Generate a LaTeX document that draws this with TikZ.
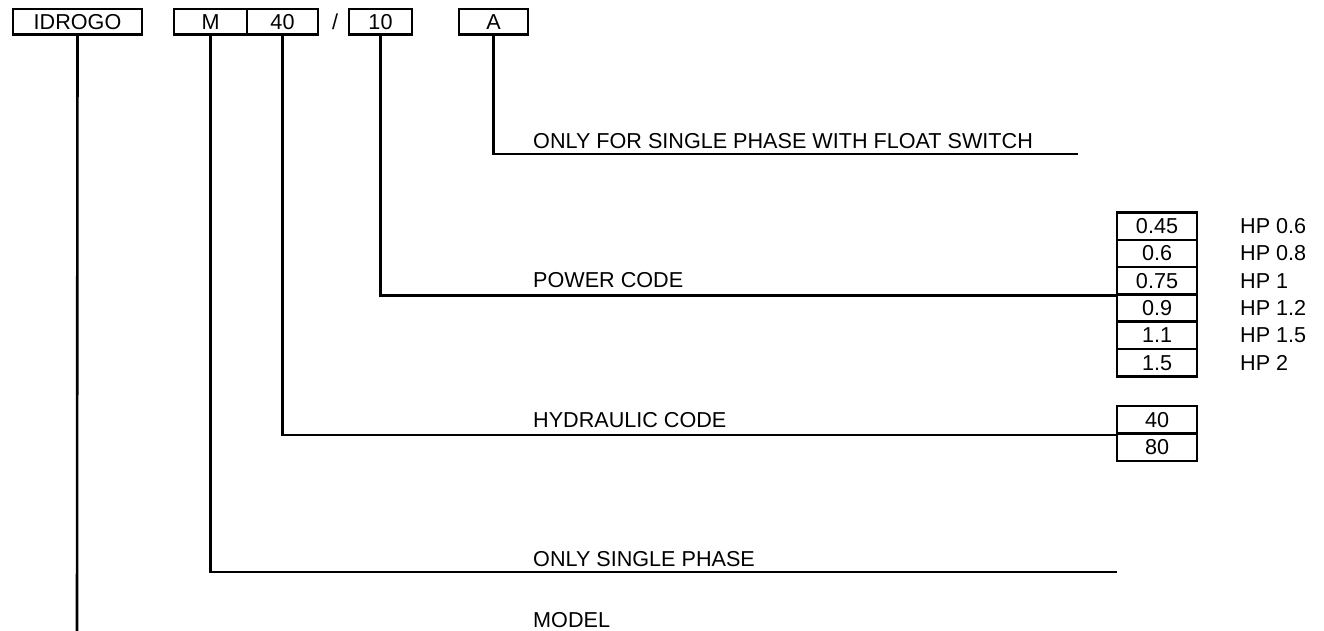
\documentclass[tikz,border=0pt]{standalone}
\usepackage{fontspec}
\setmainfont{Liberation Sans}
\begin{document}
\begin{tikzpicture}[x=1pt,y=-1pt,
  every node/.style={font=\fontsize{21.6}{25}\selectfont, inner sep=0pt},
  topbox/.style={draw, line width=2.6pt, minimum height=25.8pt},
  cell/.style={draw, line width=2.6pt, minimum width=80pt, minimum height=27.3pt},
  lbl/.style={anchor=base west},
  hp/.style={anchor=west},
  conn/.style={line width=2.6pt}]
\useasboundingbox (0,0) rectangle (1324,630);
% top code boxes
\node[topbox, minimum width=129pt] (idrogo) at (77.5,21.7) {IDROGO};
\node[topbox, minimum width=73pt] (m) at (210.5,21.7) {M};
\node[topbox, minimum width=71pt] (forty) at (282.5,21.7) {40};
\node (slash) at (335,21.7) {/};
\node[topbox, minimum width=63pt] (ten) at (380.5,21.7) {10};
\node[topbox, minimum width=69pt] (a) at (493.5,21.7) {A};
% power table
\node[cell] (p1) at (1157,226.2) {0.45};
\node[cell] (p2) at (1157,253.5) {0.6};
\node[cell] (p3) at (1157,280.8) {0.75};
\node[cell] (p4) at (1157,308.1) {0.9};
\node[cell] (p5) at (1157,335.4) {1.1};
\node[cell] (p6) at (1157,362.7) {1.5};
\node[hp] (hp1) at (1240,226.2) {HP 0.6};
\node[hp] (hp2) at (1240,253.5) {HP 0.8};
\node[hp] (hp3) at (1240,280.8) {HP 1};
\node[hp] (hp4) at (1240,308.1) {HP 1.2};
\node[hp] (hp5) at (1240,335.4) {HP 1.5};
\node[hp] (hp6) at (1240,362.7) {HP 2};
% hydraulic table
\node[cell, minimum height=27.5pt] (h1) at (1157,419.75) {40};
\node[cell, minimum height=27.5pt] (h2) at (1157,447.25) {80};
% labels
\node[lbl] (la) at (533,148) {ONLY FOR SINGLE PHASE WITH FLOAT SWITCH};
\node[lbl] (lp) at (533,287.5) {POWER CODE};
\node[lbl] (lh) at (533,427) {HYDRAULIC CODE};
\node[lbl] (lm) at (533,566) {ONLY SINGLE PHASE};
\node[lbl] (lmodel) at (533,627) {MODEL};
% free ends
\coordinate (aend) at (1078,154);
\coordinate (mend) at (1117,572);
\coordinate (idend) at (77,632);
% connectors
\draw[conn] (a.south) |- (aend);
\draw[conn] (ten.south) |- (p3.south west);
\draw[conn] (forty.south) |- (h1.south west);
\draw[conn] (m.south) |- (mend);
\draw[conn] (idrogo.south) -- (idend);
\end{tikzpicture}
\end{document}
